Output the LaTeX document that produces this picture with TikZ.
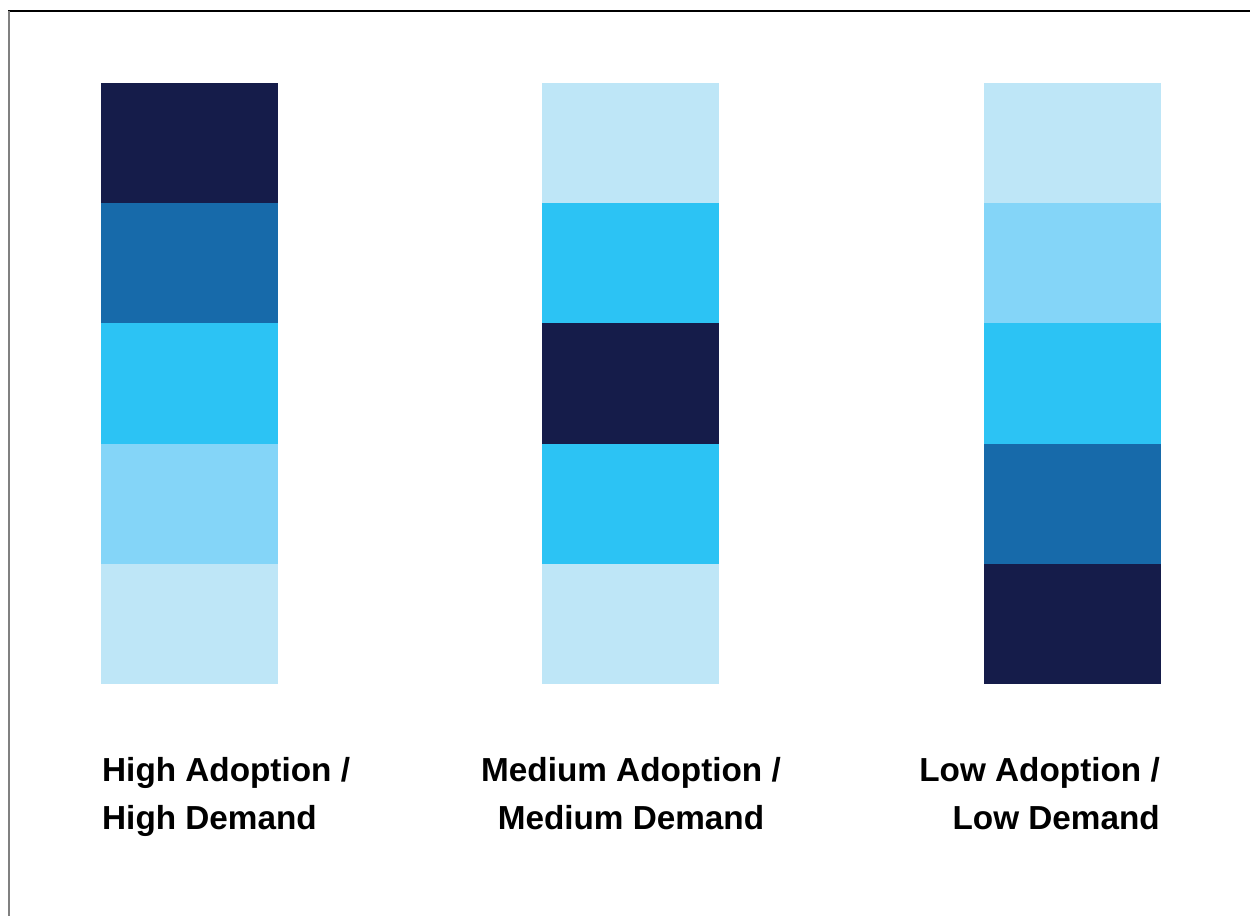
\documentclass[tikz,border=0pt]{standalone}
\usepackage{fontspec}
\setmainfont{Liberation Sans}
\definecolor{cnavy}{HTML}{151C4A}
\definecolor{cblue}{HTML}{176AAA}
\definecolor{ccyan}{HTML}{2CC3F4}
\definecolor{clight}{HTML}{84D5F8}
\definecolor{cpale}{HTML}{BEE6F7}
\definecolor{cgray}{HTML}{808080}
\begin{document}
\begin{tikzpicture}[x=1pt,y=-1pt,
  cell/.style={fill=#1,draw=none},
  lbl/.style={inner sep=0pt,font=\fontsize{33.3}{48}\selectfont\bfseries,text=black}]
\useasboundingbox (0,0) rectangle (1250,916);
\fill[white] (0,0) rectangle (1250,916);
% frame
\draw[black,line width=1.5pt] (8,11) -- (1250,11);
\draw[cgray,line width=2pt] (9,11) -- (9,916);
% column 1
\foreach \c [count=\i from 0] in {cnavy,cblue,ccyan,clight,cpale}
  \fill[\c] (101,{83+120.2*\i}) rectangle (278,{83+120.2*(\i+1)});
% column 2
\foreach \c [count=\i from 0] in {cpale,ccyan,cnavy,ccyan,cpale}
  \fill[\c] (542,{83+120.2*\i}) rectangle (719,{83+120.2*(\i+1)});
% column 3
\foreach \c [count=\i from 0] in {cpale,clight,ccyan,cblue,cnavy}
  \fill[\c] (984,{83+120.2*\i}) rectangle (1161,{83+120.2*(\i+1)});
% labels (base anchor = baseline of last line)
\node[lbl,anchor=base west,align=left] (l1) at (102,829) {High Adoption /\\High Demand};
\node[lbl,anchor=base,align=center] (l2) at (631,829) {Medium Adoption /\\Medium Demand};
\node[lbl,anchor=base east,align=right] (l3) at (1160,829) {Low Adoption /\\Low Demand};
\end{tikzpicture}
\end{document}
